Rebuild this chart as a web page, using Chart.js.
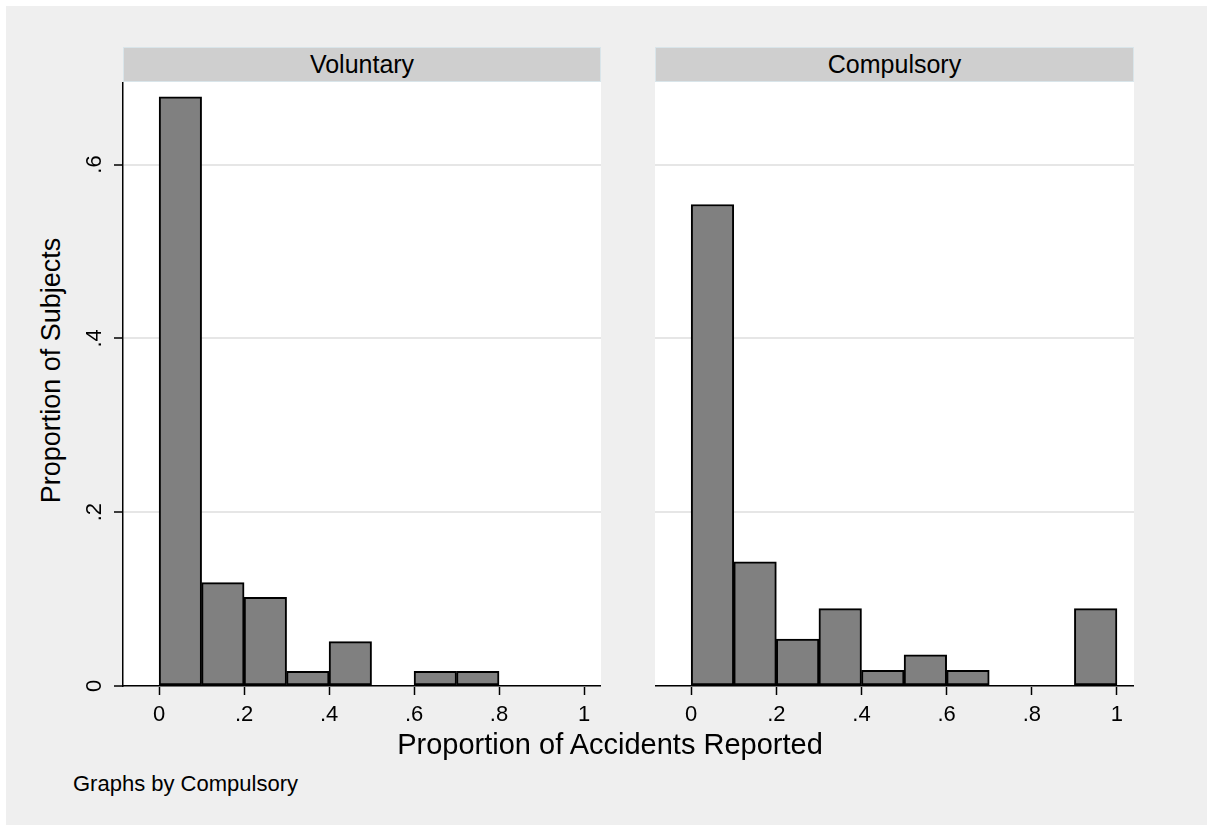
<!DOCTYPE html>
<html lang="en">
<head>
    <meta charset="UTF-8">
    <title>Proportion of Accidents Reported</title>
    <script src="https://cdn.jsdelivr.net/npm/chart.js"></script>
    <style>
        body {
            margin: 0;
            background: #ffffff;
            font-family: "Liberation Sans", Arial, sans-serif;
        }

        .graph-region {
            position: absolute;
            left: 6px;
            top: 6px;
            width: 1201px;
            height: 819px;
            background: #efefef;
        }

        .strip {
            position: absolute;
            top: 47px;
            height: 35px;
            background: #cfcfcf;
            border: 1px solid #d9e5ea;
            box-sizing: border-box;
            text-align: center;
            font-size: 25px;
            line-height: 33px;
            color: #000;
        }

        canvas {
            position: absolute;
        }

        .xtitle {
            position: absolute;
            left: 310px;
            width: 600px;
            top: 730px;
            text-align: center;
            font-size: 29px;
            line-height: 29px;
        }

        .ytitle {
            position: absolute;
            left: -149px;
            top: 356px;
            width: 400px;
            text-align: center;
            font-size: 27px;
            line-height: 29px;
            transform: rotate(-90deg);
        }

        .note {
            position: absolute;
            left: 73px;
            top: 773px;
            font-size: 22px;
            line-height: 22px;
        }
    </style>
</head>
<body>
    <div class="graph-region"></div>

    <!-- panel headers -->
    <div class="strip" style="left:123px; width:478px;">Voluntary</div>
    <div class="strip" style="left:655px; width:479px;">Compulsory</div>

    <canvas id="leftPanel" width="531" height="658" style="left:70px; top:82px;"></canvas>
    <canvas id="rightPanel" width="479" height="658" style="left:655px; top:82px;"></canvas>

    <div class="ytitle">Proportion of Subjects</div>
    <div class="xtitle">Proportion of Accidents Reported</div>
    <div class="note">Graphs by Compulsory</div>

    <script>
        // histogram bins (midpoints, width .1)
        const binMids = [0.05, 0.15, 0.25, 0.35, 0.45, 0.55, 0.65, 0.75, 0.85, 0.95];
        const voluntary = [0.678, 0.119, 0.102, 0.017, 0.051, 0, 0.017, 0.017, 0, 0];
        const compulsory = [0.554, 0.143, 0.054, 0.089, 0.018, 0.036, 0.018, 0, 0, 0.089];

        const xTickValues = [0, 0.2, 0.4, 0.6, 0.8, 1];
        const xTickLabels = ['0', '.2', '.4', '.6', '.8', '1'];
        const yTickValues = [0, 0.2, 0.4, 0.6];
        const yTickLabels = ['0', '.2', '.4', '.6'];

        Chart.defaults.font.family = '"Liberation Sans", Arial, sans-serif';
        Chart.defaults.color = '#000';

        // white plot region
        var plotBackground = {
            id: 'plotBackground',
            beforeDraw: function (chart) {
                var a = chart.chartArea;
                var c = chart.ctx;
                c.save();
                c.fillStyle = '#ffffff';
                c.fillRect(a.left, a.top, a.right - a.left, a.bottom - a.top);
                c.restore();
            }
        };

        function noPadding(s) {
            s.paddingTop = 0;
            s.paddingBottom = 0;
            s.paddingLeft = 0;
            s.paddingRight = 0;
        }

        function makePanel(id, values, showY) {
            var ctx = document.getElementById(id).getContext('2d');
            return new Chart(ctx, {
                type: 'bar',
                data: {
                    datasets: [{
                        data: binMids.map(function (m, i) { return { x: m, y: values[i] }; }),
                        backgroundColor: '#808080',
                        borderColor: '#000000',
                        borderWidth: 2,
                        borderSkipped: false,
                        barPercentage: 1,
                        categoryPercentage: 1
                    }]
                },
                options: {
                    responsive: false,
                    devicePixelRatio: 1,
                    animation: false,
                    layout: { padding: 0, autoPadding: false },
                    plugins: {
                        legend: { display: false },
                        tooltip: { enabled: false }
                    },
                    scales: {
                        x: {
                            type: 'linear',
                            offset: false,
                            min: -0.085,
                            max: 1.04,
                            afterBuildTicks: function (s) {
                                s.ticks = xTickValues.map(function (v) { return { value: v }; });
                            },
                            afterFit: function (s) { s.height = 54; noPadding(s); },
                            ticks: {
                                font: { size: 22 },
                                padding: 7,
                                maxRotation: 0,
                                autoSkip: false,
                                callback: function (v) { return xTickLabels[xTickValues.indexOf(v)]; }
                            },
                            grid: {
                                offset: false,
                                drawOnChartArea: false,
                                drawTicks: true,
                                tickLength: 9,
                                tickColor: '#000',
                                tickWidth: 1.5
                            },
                            border: { display: true, color: '#000', width: 1.5 }
                        },
                        y: {
                            min: 0,
                            max: 0.695,
                            afterBuildTicks: function (s) {
                                s.ticks = yTickValues.map(function (v) { return { value: v }; });
                            },
                            afterFit: function (s) { s.width = showY ? 53 : 0; noPadding(s); },
                            ticks: {
                                display: showY,
                                font: { size: 22 },
                                padding: 10,
                                minRotation: 90,
                                maxRotation: 90,
                                crossAlign: 'center',
                                callback: function (v) { return yTickLabels[yTickValues.indexOf(v)]; }
                            },
                            grid: {
                                color: '#e6e6e6',
                                lineWidth: 2,
                                drawTicks: showY,
                                tickLength: 9,
                                tickColor: '#000',
                                tickWidth: 1.5
                            },
                            border: { display: showY, color: '#000', width: 1.5 }
                        }
                    }
                },
                plugins: [plotBackground]
            });
        }

        makePanel('leftPanel', voluntary, true);
        makePanel('rightPanel', compulsory, false);
    </script>
</body>
</html>
